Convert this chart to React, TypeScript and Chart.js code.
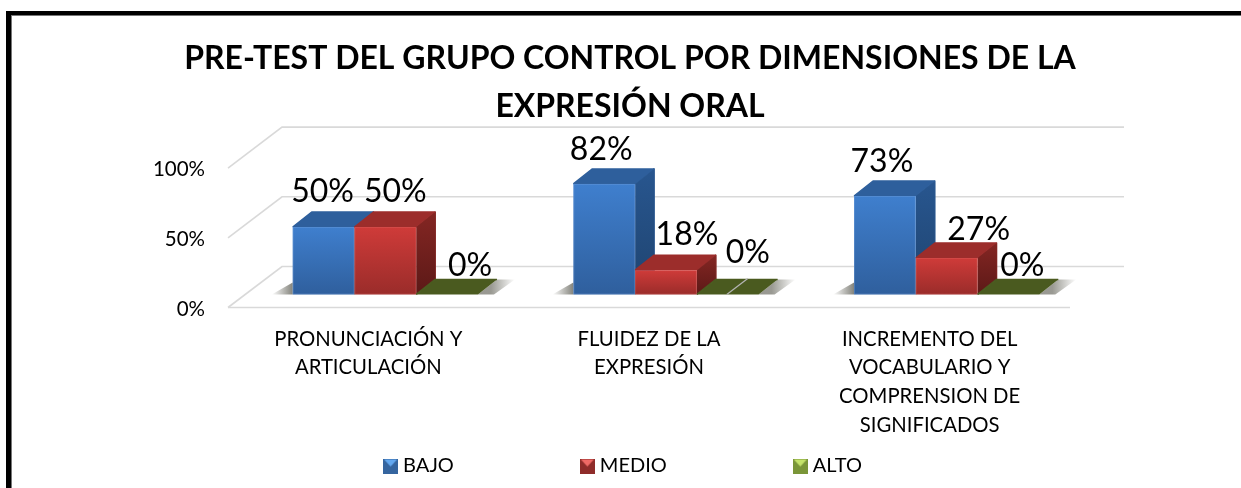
import React, { useEffect, useRef } from "react";
import { Chart, registerables } from "chart.js";

Chart.register(...registerables);

const titleLines = ["PRE-TEST DEL GRUPO CONTROL POR DIMENSIONES DE LA", "EXPRESIÓN ORAL"];
const categories = [
  ["PRONUNCIACIÓN Y", "ARTICULACIÓN"],
  ["FLUIDEZ DE LA", "EXPRESIÓN"],
  ["INCREMENTO DEL", "VOCABULARIO Y", "COMPRENSION DE", "SIGNIFICADOS"],
];
const bajo = [50, 82, 73];
const medio = [50, 18, 27];
const alto = [0, 0, 0];
const seriesNames = ["BAJO", "MEDIO", "ALTO"];

// label placement relative to each bar (series -> category -> [dx, dy])
const labelNudges = [
  [[-1, -25], [-3, -24], [-3, -24]],
  [[10, -25], [21, -25], [32, -18]],
  [[23, -18], [20, -31], [14, -18]],
];

const palette = [
  { frontTop: "#3f7fce", frontBottom: "#2f5f9d", top: "#2e5f9c", sideA: "#28568f", sideB: "#1f4470", edge: "rgba(130,170,225,0.3)", legendTop: "#63a8f0", legendBody: "#35659f" },
  { frontTop: "#cf3b39", frontBottom: "#9a2c2a", top: "#9c2d2b", sideA: "#842623", sideB: "#5c1917", edge: "rgba(230,120,115,0.25)", legendTop: "#f06a66", legendBody: "#8f2c2a" },
  { frontTop: "#7a9a35", frontBottom: "#5f7a26", top: "#4a5a1f", sideA: "#4a5a1f", sideB: "#3c4a18", edge: "rgba(0,0,0,0)", legendTop: "#c4e36a", legendBody: "#7a9638" },
];

const BAR_DX = 19;
const BAR_DY = -15;
const WALL_DX = 54;
const WALL_DY = -41;
const WALL_OFFSET_X = -17;
const LEGEND_SHIFT = -5;

function poly(ctx: CanvasRenderingContext2D, pts: number[][], fill: any) {
  ctx.beginPath();
  pts.forEach((p, i) => (i ? ctx.lineTo(p[0], p[1]) : ctx.moveTo(p[0], p[1])));
  ctx.closePath();
  ctx.fillStyle = fill;
  ctx.fill();
}

function legendMarker(i: number) {
  const c = document.createElement("canvas");
  c.width = 15;
  c.height = 15;
  const g = c.getContext("2d")!;
  const p = palette[i];
  g.fillStyle = p.legendBody;
  g.fillRect(0, 0, 15, 15);
  g.beginPath();
  g.moveTo(1, 1);
  g.lineTo(14, 1);
  g.lineTo(7.5, 8);
  g.closePath();
  g.fillStyle = p.legendTop;
  g.fill();
  return c;
}

const framePlugin = {
  id: "frame",
  afterLayout(chart: any) {
    if (chart.legend) {
      chart.legend.left += LEGEND_SHIFT;
      chart.legend.right += LEGEND_SHIFT;
    }
  },
  beforeDraw(chart: any) {
    const ctx = chart.ctx;
    ctx.save();
    ctx.fillStyle = "#ffffff";
    ctx.fillRect(0, 0, chart.width, chart.height);
    ctx.fillStyle = "#000000";
    ctx.fillRect(6, 11, chart.width - 6, 4);
    ctx.fillRect(6, 11, 5, chart.height - 11);
    ctx.fillStyle = "#777777";
    ctx.fillRect(11, 15, chart.width - 11, 1);
    ctx.fillRect(11, 15, 1, chart.height - 15);
    ctx.restore();
  },
};

const walls3dPlugin = {
  id: "walls3d",
  beforeDatasetsDraw(chart: any) {
    const { ctx, chartArea, scales } = chart;
    const left = chartArea.left + WALL_OFFSET_X;
    const frontRight = chartArea.right + WALL_OFFSET_X;
    ctx.save();
    ctx.strokeStyle = "#d9d9d9";
    ctx.lineWidth = 1.6;
    scales.y1.ticks.forEach((t: any) => {
      const y = scales.y1.getPixelForValue(t.value);
      ctx.beginPath();
      ctx.moveTo(left, y);
      ctx.lineTo(left + WALL_DX, y + WALL_DY);
      ctx.lineTo(frontRight + WALL_DX, y + WALL_DY);
      ctx.stroke();
      if (t.value === 0) {
        ctx.beginPath();
        ctx.moveTo(left, y);
        ctx.lineTo(frontRight, y);
        ctx.stroke();
      }
    });
    ctx.restore();
  },
  beforeDatasetDraw() {
    return false;
  },
  afterDatasetsDraw(chart: any) {
    const ctx = chart.ctx;
    ctx.save();
    const first = chart.getDatasetMeta(0).data;
    const last = chart.getDatasetMeta(2).data;
    first.forEach((bar: any, i: number) => {
      const base = bar.base;
      const x0 = bar.x - bar.width / 2;
      let g = ctx.createLinearGradient(x0 - 21, 0, x0, 0);
      g.addColorStop(0, "rgba(90,90,80,0)");
      g.addColorStop(1, "rgba(90,90,80,0.75)");
      poly(ctx, [[x0 - 21, base], [x0, base], [x0, base - 12]], g);
      const end = last[i];
      const x1 = end.x + end.width / 2;
      g = ctx.createLinearGradient(x1 + BAR_DX - 6, 0, x1 + BAR_DX + 18, 0);
      g.addColorStop(0, "rgba(110,110,100,0.7)");
      g.addColorStop(1, "rgba(110,110,100,0)");
      poly(ctx, [[x1, base], [x1 + BAR_DX, base + BAR_DY], [x1 + BAR_DX + 18, base + BAR_DY], [x1 + 16, base]], g);
    });
    chart.data.datasets.forEach((_: any, d: number) => {
      const p = palette[d];
      chart.getDatasetMeta(d).data.forEach((bar: any) => {
        const l = bar.x - bar.width / 2;
        const r = bar.x + bar.width / 2;
        const t = bar.y;
        const b = bar.base;
        if (b - t > 0.5) {
          const sg = ctx.createLinearGradient(0, t + BAR_DY, 0, b);
          sg.addColorStop(0, p.sideA);
          sg.addColorStop(1, p.sideB);
          ctx.lineJoin = "round";
          ctx.lineWidth = 1.5;
          ctx.strokeStyle = p.sideA;
          ctx.beginPath();
          ctx.moveTo(r, t);
          ctx.lineTo(r + BAR_DX, t + BAR_DY);
          ctx.lineTo(r + BAR_DX, b + BAR_DY);
          ctx.stroke();
          poly(ctx, [[r, t], [r + BAR_DX, t + BAR_DY], [r + BAR_DX, b + BAR_DY], [r, b]], sg);
        }
        ctx.lineJoin = "round";
        ctx.lineWidth = 1.5;
        ctx.strokeStyle = p.top;
        ctx.beginPath();
        ctx.moveTo(l, t);
        ctx.lineTo(l + BAR_DX, t + BAR_DY);
        ctx.lineTo(r + BAR_DX, t + BAR_DY);
        ctx.stroke();
        poly(ctx, [[l, t], [l + BAR_DX, t + BAR_DY], [r + BAR_DX, t + BAR_DY], [r, t]], p.top);
        if (b - t > 0.5) {
          bar.draw(ctx);
          ctx.strokeStyle = p.edge;
          ctx.lineWidth = 1;
          ctx.strokeRect(l + 0.5, t + 0.5, r - l - 1, b - t - 1);
        }
      });
    });
    // pale leader line crossing the flat ALTO bar of the second category
    const flat = chart.getDatasetMeta(2).data[1];
    ctx.strokeStyle = "#b5b5b5";
    ctx.lineWidth = 1.2;
    ctx.beginPath();
    ctx.moveTo(flat.x - 1, flat.base);
    ctx.lineTo(flat.x + BAR_DX + 1, flat.base + BAR_DY - 1);
    ctx.stroke();

    ctx.fillStyle = "#000000";
    ctx.font = '32px Lato, "Open Sans", sans-serif';
    ctx.textAlign = "center";
    ctx.textBaseline = "alphabetic";
    chart.data.datasets.forEach((ds: any, d: number) => {
      chart.getDatasetMeta(d).data.forEach((bar: any, i: number) => {
        const [dx, dy] = labelNudges[d][i];
        ctx.fillText(ds.data[i] + "%", bar.x + dx, bar.y + dy);
      });
    });
    ctx.restore();
  },
};

function frontFill(d: number) {
  return (c: any) => {
    const p = palette[d];
    const y = c.chart.scales.y;
    if (c.raw === undefined || !y) return p.frontTop;
    const y0 = y.getPixelForValue(c.raw);
    const y1 = y.getPixelForValue(0);
    if (!Number.isFinite(y0) || !Number.isFinite(y1)) return p.frontTop;
    const g = c.chart.ctx.createLinearGradient(0, y0, 0, y1);
    g.addColorStop(0, p.frontTop);
    g.addColorStop(1, p.frontBottom);
    return g;
  };
}

export default function App() {
  const ref = useRef<HTMLCanvasElement>(null);
  useEffect(() => {
    document.body.style.margin = "0";
    const series = [bajo, medio, alto];
    const chart = new Chart(ref.current!, {
      type: "bar",
      data: {
        labels: categories as any,
        datasets: seriesNames.map((name, d) => ({
          label: name,
          data: series[d],
          yAxisID: "y",
          backgroundColor: frontFill(d) as any,
          borderWidth: 0,
          categoryPercentage: 0.66,
          barPercentage: 1,
        })),
      },
      options: {
        animation: false,
        responsive: false,
        layout: { padding: { left: 173, right: 154, top: 0, bottom: 2 } },
        plugins: {
          tooltip: { enabled: false },
          title: {
            display: true,
            text: titleLines,
            color: "#000000",
            font: { family: 'Lato, "Open Sans", sans-serif', size: 32, weight: "bold", lineHeight: 48 / 32 },
            padding: { top: 35, bottom: -4 },
          },
          legend: {
            position: "bottom",
            labels: {
              color: "#000000",
              font: { family: 'Lato, "Open Sans", sans-serif', size: 20 },
              usePointStyle: true,
              pointStyleWidth: 5,
              padding: 131,
              generateLabels: (c: any) =>
                Chart.defaults.plugins.legend.labels.generateLabels(c).map((it: any, i: number) => ({
                  ...it,
                  pointStyle: legendMarker(i),
                })),
            },
          },
        },
        scales: {
          x: {
            grid: { display: false, drawTicks: false },
            border: { display: false },
            afterFit: (s: any) => {
              s.height = 17.5;
              s._computeLabelArea = () => undefined;
            },
            ticks: {
              autoSkip: false,
              maxRotation: 0,
              minRotation: 0,
              labelOffset: WALL_OFFSET_X,
              padding: 17.5,
              color: "#000000",
              font: { family: 'Lato, "Open Sans", sans-serif', size: 20.3, lineHeight: 28.6 / 20.3 },
            },
          },
          y: {
            display: false,
            min: -9.67,
            max: 124.2,
          },
          y1: {
            position: "left",
            min: 0,
            max: 129.5,
            grid: { display: false, drawTicks: false },
            border: { display: false },
            afterFit: (s: any) => {
              s.width = 72;
              s._computeLabelArea = () => undefined;
            },
            ticks: {
              stepSize: 50,
              includeBounds: false,
              padding: 40,
              labelOffset: 1.5,
              color: "#000000",
              font: { family: 'Lato, "Open Sans", sans-serif', size: 20.5 },
              callback: (v: any) => v + "%",
            },
          },
        },
      },
      plugins: [framePlugin, walls3dPlugin],
    } as any);
    return () => chart.destroy();
  }, []);
  return <canvas ref={ref} width={1241} height={488} style={{ display: "block" }} />;
}
